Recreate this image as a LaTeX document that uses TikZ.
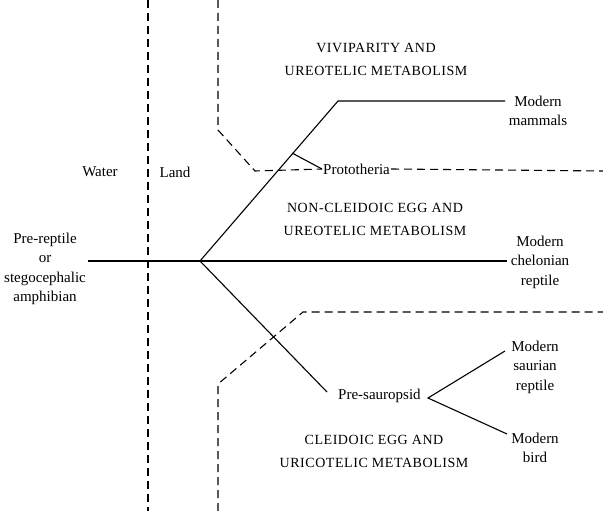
\documentclass[tikz,border=0pt]{standalone}
\usepackage{fontspec}
\setmainfont{Liberation Serif}
\newfontfamily\capsfont[LetterSpace=4]{Liberation Serif}
\begin{document}
\begin{tikzpicture}[x=1pt,y=-1pt,
  line/.style={line width=1.1pt},
  dashline/.style={line width=1.1pt,dash pattern=on 8pt off 5pt},
  lab/.style={font=\fontsize{15}{19.5}\selectfont,align=center,inner sep=1pt},
  captitle/.style={font=\capsfont\fontsize{14}{23}\selectfont,align=center,inner sep=1pt}]
\useasboundingbox (0,0) rectangle (603,511);
% dashed boundaries
\coordinate (wt) at (148,0); \coordinate (wb) at (148,511);
\draw[dashline] (wt) -- (wb);
\coordinate (ua) at (218,0); \coordinate (ub) at (218,130); \coordinate (uc) at (255,171);
\coordinate (ue) at (603,171);
\node[lab,anchor=west] (proto) at (322,169) {Prototheria};
\draw[dashline] (ua) -- (ub) -- (uc) -- (proto.west);
\draw[dashline] (proto.east) -- (ue);
\coordinate (la) at (218,511); \coordinate (lb) at (218,384); \coordinate (lc) at (303,312);
\coordinate (le) at (603,312);
\draw[dashline] (la) -- (lb) -- (lc) -- (le);
% labels
\node[lab] (pre) at (45,269) {Pre-reptile\\or\\stegocephalic\\amphibian};
\node[lab] (water) at (100,172) {Water};
\node[lab] (land) at (175,172) {Land};
\node[captitle] (viv) at (376,59) {VIVIPARITY AND\\UREOTELIC METABOLISM};
\node[captitle] (non) at (375,219) {NON-CLEIDOIC EGG AND\\UREOTELIC METABOLISM};
\node[captitle] (cle) at (374,451) {CLEIDOIC EGG AND\\URICOTELIC METABOLISM};
\node[lab] (mam) at (538,111) {Modern\\mammals};
\node[lab] (chel) at (540,262) {Modern\\chelonian\\reptile};
\node[lab] (saur) at (535,367) {Modern\\saurian\\reptile};
\node[lab] (bird) at (535,448) {Modern\\bird};
\node[lab,anchor=west] (sauro) at (337,396) {Pre-sauropsid};
% tree
\coordinate (start) at (88,261);
\coordinate (br) at (200,261);
\coordinate (up) at (338,101);
\coordinate (mamend) at (505,101);
\coordinate (chelend) at (507,261);
\coordinate (down) at (327,392);
\coordinate (apex) at (428,398);
\coordinate (saurend) at (505,351);
\coordinate (birdend) at (507,434);
\coordinate (tick) at (292,153);
\draw[line] (start) -- (br) -- (chelend);
\draw[line] (br) -- (up) -- (mamend);
\draw[line] (br) -- (down);
\draw[line] (tick) -- (proto.west);
\draw[line] (saurend) -- (apex) -- (birdend);
\end{tikzpicture}
\end{document}
